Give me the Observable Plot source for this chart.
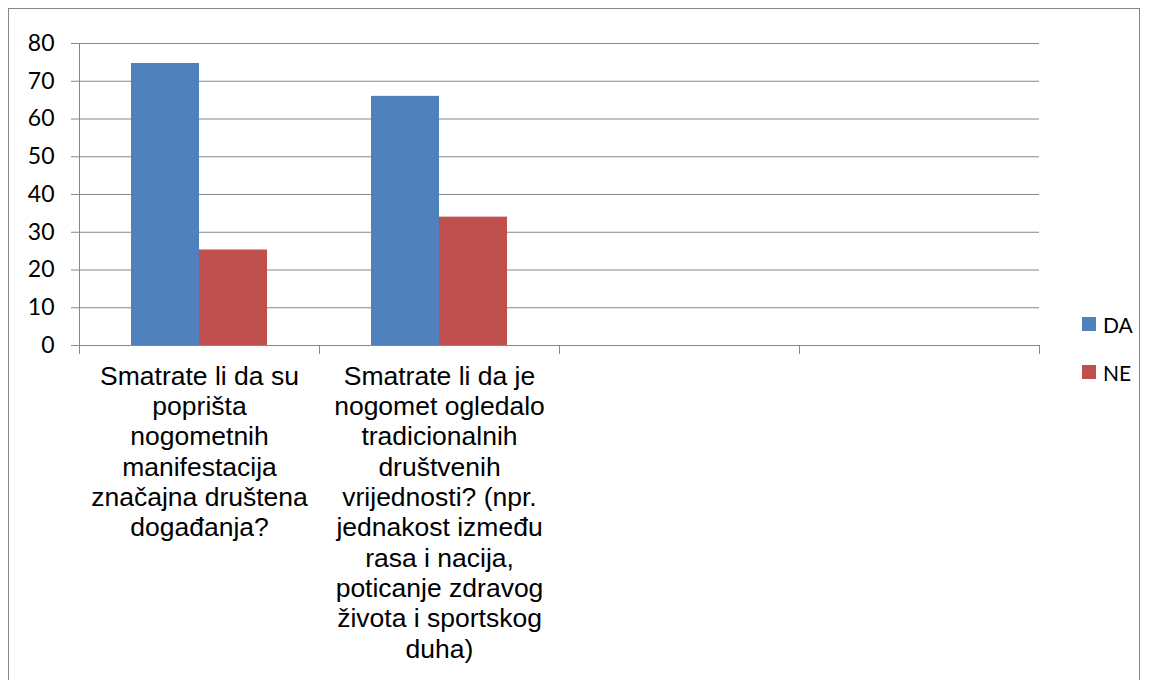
<!DOCTYPE html>
<html>
<head>
<meta charset="utf-8">
<script src="https://cdn.jsdelivr.net/npm/d3@7"></script>
<script src="https://cdn.jsdelivr.net/npm/@observablehq/plot@0.6"></script>
<style>
  html, body { margin: 0; padding: 0; background: #fff; }
  #wrap { position: relative; width: 1149px; height: 680px; overflow: hidden; }
  #border { position: absolute; left: 8px; top: 8px; width: 1132px; height: 700px; border: 1px solid #868686; box-sizing: border-box; }
  #legend { position: absolute; left: 1082px; top: 311px; font-family: Lato, "Open Sans", sans-serif; font-size: 21px; color: #000; }
  #legend .item { display: flex; align-items: center; height: 26px; margin-bottom: 22px; }
  #legend .sw { width: 14px; height: 14px; margin-right: 7px; }
  #chart { position: absolute; left: 0; top: 0; }
</style>
</head>
<body>
<div id="wrap">
  <div id="border"></div>
  <div id="chart"></div>
  <div id="legend"></div>
</div>
<script>
// Data
const categories = ["q1", "q2", "q3", "q4"];
const categoryLabels = [
  "Smatrate li da su\npoprišta\nnogometnih\nmanifestacija\nznačajna društena\ndogađanja?",
  "Smatrate li da je\nnogomet ogledalo\ntradicionalnih\ndruštvenih\nvrijednosti? (npr.\njednakost između\nrasa i nacija,\npoticanje zdravog\nživota i sportskog\nduha)",
  "",
  ""
];
const series = ["DA", "NE"];
const daValues = [74.7, 66, null, null];
const neValues = [25.3, 34, null, null];
const seriesColors = ["#4F81BD", "#C0504D"];
const yTicks = [0, 10, 20, 30, 40, 50, 60, 70, 80];

const table = [];
categories.forEach((c, i) => {
  table.push({category: c, series: "DA", value: daValues[i]});
  table.push({category: c, series: "NE", value: neValues[i]});
});

const gray = "#868686";

const chart = Plot.plot({
  width: 1149,
  height: 680,
  marginLeft: 78,
  marginRight: 109,
  marginTop: 43,
  marginBottom: 335,
  style: {background: "transparent"},
  fx: {domain: categories, padding: 0, label: null},
  x: {domain: series, paddingInner: 0, paddingOuter: 0.75, axis: null},
  y: {domain: [0, 80], label: null},
  color: {domain: series, range: seriesColors},
  marks: [
    Plot.gridY(yTicks, {stroke: gray, strokeOpacity: 1, strokeWidth: 1}),
    Plot.frame({anchor: "left", facetAnchor: "left", stroke: gray}),
    Plot.frame({anchor: "left", stroke: gray, insetTop: 302, insetBottom: -8}),
    Plot.frame({anchor: "right", stroke: gray, insetTop: 302, insetBottom: -8}),
    Plot.barY(table, {fx: "category", x: "series", y: "value", fill: "series"}),
    Plot.ruleY([0], {stroke: gray}),
    Plot.axisY(yTicks, {
      anchor: "left", tickSize: 8, tickPadding: 17, stroke: gray, fill: "#000",
      fontSize: 23, fontFamily: "Lato, 'Open Sans', sans-serif", label: null
    }),
    Plot.axisFx({
      anchor: "bottom", tickSize: 0, tickPadding: 17.5, label: null,
      fontSize: 26.5, fontFamily: "'Liberation Sans', Arial, sans-serif", fill: "#000",
      lineHeight: 1.145,
      tickFormat: (d) => categoryLabels[categories.indexOf(d)]
    })
  ]
});
document.getElementById("chart").appendChild(chart);

// Legend
const legend = document.getElementById("legend");
series.forEach((s, i) => {
  const item = document.createElement("div");
  item.className = "item";
  const sw = document.createElement("div");
  sw.className = "sw";
  sw.style.background = seriesColors[i];
  const t = document.createElement("span");
  t.textContent = s;
  item.appendChild(sw);
  item.appendChild(t);
  legend.appendChild(item);
});
</script>
</body>
</html>
